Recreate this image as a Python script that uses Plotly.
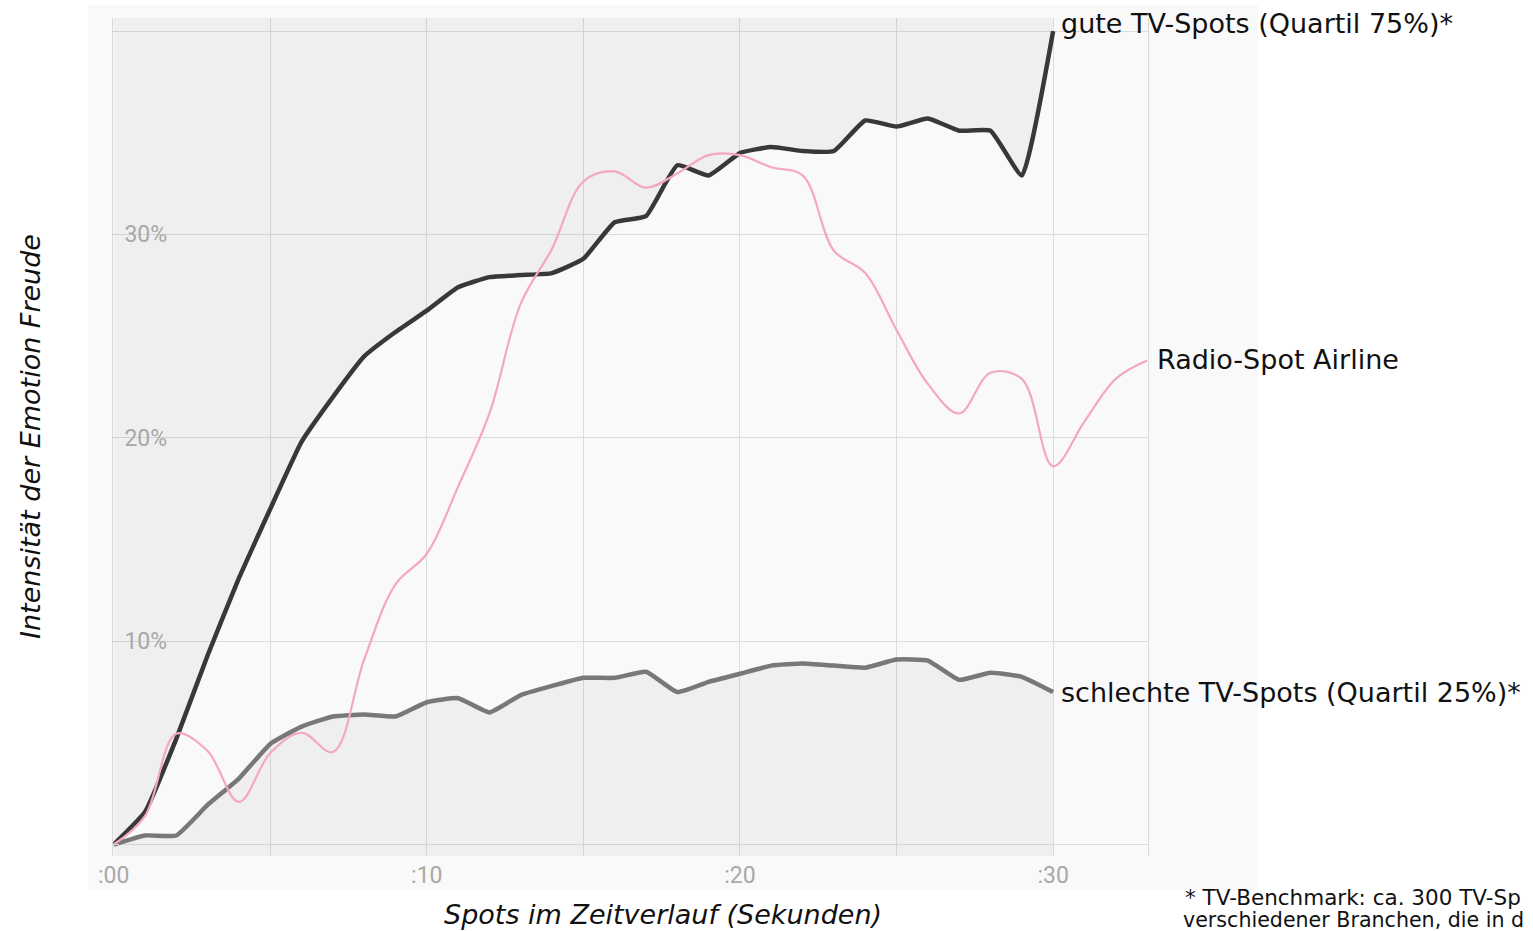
import plotly.graph_objects as go

# ---------------- data ----------------
SEC = list(range(0, 31))
SEC_RADIO = list(range(0, 34))

GOOD_TV = [0, 1.6, 5.2, 9.3, 13.1, 16.5, 19.8, 22.0, 24.0, 25.2, 26.25,
           27.4, 27.9, 28.0, 28.1, 28.8, 30.6, 30.9, 33.4, 32.9, 34.0,
           34.3, 34.1, 34.1, 35.6, 35.3, 35.7, 35.1, 35.1, 32.9, 40.0]

BAD_TV = [0, 0.45, 0.45, 1.95, 3.25, 4.95, 5.8, 6.3, 6.4, 6.3, 7.0,
          7.2, 6.5, 7.35, 7.8, 8.2, 8.2, 8.5, 7.5, 8.0, 8.4,
          8.8, 8.9, 8.8, 8.7, 9.1, 9.05, 8.1, 8.45, 8.25, 7.5]

RADIO = [0, 1.4, 5.45, 4.6, 2.1, 4.5, 5.5, 4.55, 9.1, 12.8, 14.3,
         17.6, 21.2, 26.6, 29.3, 32.6, 33.1, 32.3, 33.0, 33.9, 33.9,
         33.3, 32.9, 29.2, 28.1, 25.3, 22.65, 21.2, 23.2, 22.9, 18.6,
         20.8, 22.9, 23.8]

X_TICKS = [0, 5, 10, 15, 20, 25, 30]
X_TICKTEXT = [":00", "", ":10", "", ":20", "", ":30"]
Y_TICKS = [0, 10, 20, 30, 40]
Y_TICKTEXT = ["", "10%", "20%", "30%", ""]

LABEL_GOOD = "gute TV-Spots (Quartil 75%)*"
LABEL_BAD = "schlechte TV-Spots (Quartil 25%)*"
LABEL_RADIO = "Radio-Spot Airline"
X_TITLE = "Spots im Zeitverlauf (Sekunden)"
Y_TITLE = "Intensität der Emotion Freude"
FOOTNOTE_1 = "* TV-Benchmark: ca. 300 TV-Sp"
FOOTNOTE_2 = "verschiedener Branchen, die in d"

# ---------------- style ----------------
X_RANGE = [-0.02, 33.03]
Y_RANGE = [-0.56, 40.64]
SHADE = "rgba(0,0,0,0.04)"
LABEL_FONT = dict(family="DejaVu Sans, Verdana, sans-serif", size=27, color="#111111")
TICK_FONT = dict(family="Roboto, sans-serif", size=23, color="#a8a8a8")

W, H = 1533, 931
ML, MR, MT, MB = 113, 385, 18, 75
PW, PH = W - ML - MR, H - MT - MB


def px_to_paper(px, py):
    return (px - ML) / PW, (H - MB - py) / PH


fig = go.Figure()

# shaded area above the good line (up to the top of the plot)
fig.add_trace(go.Scatter(x=SEC, y=[Y_RANGE[1]] * len(SEC), mode="lines",
                         line=dict(width=0), hoverinfo="skip", showlegend=False))
fig.add_trace(go.Scatter(x=SEC, y=GOOD_TV, mode="lines", fill="tonexty",
                         fillcolor=SHADE,
                         line=dict(color="#383838", width=4.5, shape="spline", smoothing=0.4),
                         name=LABEL_GOOD, showlegend=False))

# shaded area below the bad line (down to the bottom of the plot)
fig.add_trace(go.Scatter(x=SEC, y=[Y_RANGE[0]] * len(SEC), mode="lines",
                         line=dict(width=0), hoverinfo="skip", showlegend=False))
fig.add_trace(go.Scatter(x=SEC, y=BAD_TV, mode="lines", fill="tonexty",
                         fillcolor=SHADE,
                         line=dict(color="#787878", width=4.5, shape="spline", smoothing=0.4),
                         name=LABEL_BAD, showlegend=False))

# radio spot
fig.add_trace(go.Scatter(x=SEC_RADIO, y=RADIO, mode="lines",
                         line=dict(color="#f4a6c6", width=2.2, shape="spline", smoothing=1),
                         name=LABEL_RADIO, showlegend=False))

xt, yt = px_to_paper(663, 914)
xy, yy = px_to_paper(30, 437)
xf1, yf1 = px_to_paper(1183, 897)
xf2, yf2 = px_to_paper(1181, 920)
_, ytick0 = px_to_paper(0, 875)

annotations = [
    dict(x=SEC[-1], y=GOOD_TV[-1], xref="x", yref="y", text=LABEL_GOOD,
         showarrow=False, xanchor="left", yanchor="middle", xshift=6, yshift=8,
         font=LABEL_FONT),
    dict(x=SEC[-1], y=BAD_TV[-1], xref="x", yref="y", text=LABEL_BAD,
         showarrow=False, xanchor="left", yanchor="middle", xshift=6, yshift=0,
         font=LABEL_FONT),
    dict(x=SEC_RADIO[-1], y=RADIO[-1], xref="x", yref="y", text=LABEL_RADIO,
         showarrow=False, xanchor="left", yanchor="middle", xshift=8, yshift=1,
         font=LABEL_FONT),
    # first x tick label (plotly suppresses it next to inside y labels)
    dict(x=X_TICKS[0], y=ytick0, xref="x", yref="paper", text=X_TICKTEXT[0],
         showarrow=False, xanchor="center", yanchor="middle", font=TICK_FONT),
    dict(x=xt, y=yt, xref="paper", yref="paper", text=X_TITLE,
         showarrow=False, xanchor="center", yanchor="middle",
         font=dict(LABEL_FONT, style="italic")),
    dict(x=xy, y=yy, xref="paper", yref="paper", text=Y_TITLE, showarrow=False,
         textangle=-90, xanchor="center", yanchor="middle",
         font=dict(LABEL_FONT, style="italic")),
    dict(x=xf1, y=yf1, xref="paper", yref="paper", text=FOOTNOTE_1, showarrow=False,
         xanchor="left", yanchor="middle", font=dict(LABEL_FONT, size=21.5)),
    dict(x=xf2, y=yf2, xref="paper", yref="paper", text=FOOTNOTE_2, showarrow=False,
         xanchor="left", yanchor="middle", font=dict(LABEL_FONT, size=20.6)),
]

px0, py1 = px_to_paper(88, 5)
px1, py0 = px_to_paper(1258, 890)

fig.update_layout(
    width=W, height=H,
    margin=dict(l=ML, r=MR, t=MT, b=MB, pad=0),
    paper_bgcolor="white",
    plot_bgcolor="#fafafa",
    annotations=annotations,
    shapes=[dict(type="rect", xref="paper", yref="paper", layer="below",
                 x0=px0, x1=px1, y0=py0, y1=py1,
                 fillcolor="#f9f9f9", line=dict(width=0))],
    xaxis=dict(range=X_RANGE, tickvals=X_TICKS,
               ticktext=[""] + X_TICKTEXT[1:],
               showgrid=True, gridcolor="#dcdcdc", gridwidth=1,
               zeroline=False, showline=False,
               ticks="inside", ticklen=5, tickcolor="#d8d8d8",
               tickfont=TICK_FONT, ticklabelstandoff=3),
    yaxis=dict(range=Y_RANGE, tickvals=Y_TICKS, ticktext=Y_TICKTEXT,
               showgrid=True, gridcolor="#dcdcdc", gridwidth=1,
               zeroline=False, showline=True, mirror=True, linecolor="#d8d8d8",
               ticks="inside", ticklen=6, tickcolor="#cfcfcf",
               ticklabelposition="inside", tickfont=TICK_FONT,
               ticklabelstandoff=7),
    showlegend=False,
    hovermode=False,
)

fig.write_html("out.html")
